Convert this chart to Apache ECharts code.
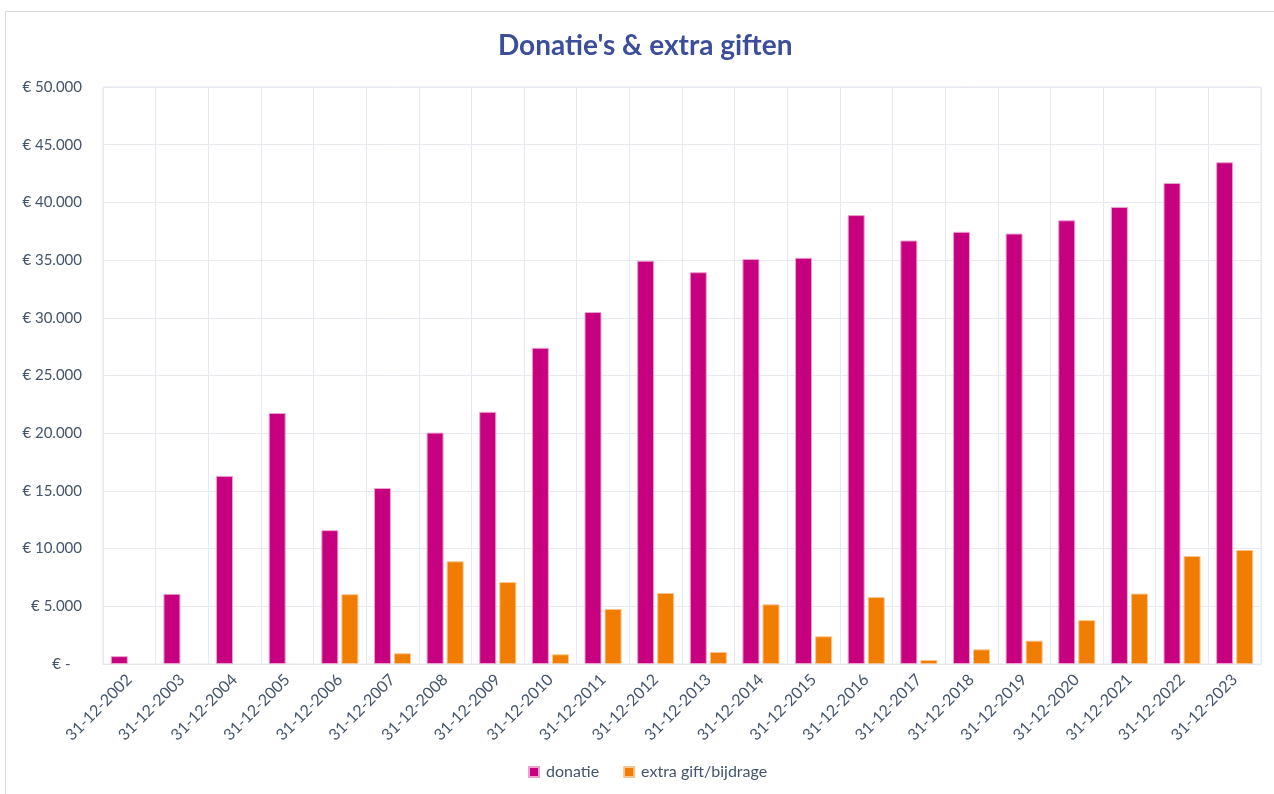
<!DOCTYPE html>
<html>
<head>
<meta charset="utf-8">
<script src="https://cdn.jsdelivr.net/npm/echarts@6/dist/echarts.min.js"></script>
<style>
  html, body { margin: 0; padding: 0; background: #ffffff; }
  #chart { position: absolute; left: 0; top: 0; width: 1274px; height: 794px; }
  #frame { position: absolute; left: 5px; top: 11px; width: 1300px; height: 900px;
           border-left: 1px solid #D9D9D9; border-top: 1px solid #D9D9D9; pointer-events: none; }
</style>
</head>
<body>
<div id="chart"></div>
<div id="frame"></div>
<script>
const categories = ['31-12-2002','31-12-2003','31-12-2004','31-12-2005','31-12-2006','31-12-2007','31-12-2008','31-12-2009','31-12-2010','31-12-2011','31-12-2012','31-12-2013','31-12-2014','31-12-2015','31-12-2016','31-12-2017','31-12-2018','31-12-2019','31-12-2020','31-12-2021','31-12-2022','31-12-2023'];
const donatie = [680, 6080, 16300, 21750, 11600, 15250, 20050, 21850, 27400, 30500, 34950, 33950, 35100, 35200, 38900, 36700, 37450, 37300, 38450, 39600, 41680, 43480];
const extraGift = [null, null, null, null, 6050, 930, 8900, 7100, 840, 4770, 6150, 1040, 5170, 2400, 5800, 350, 1270, 2020, 3800, 6100, 9360, 9880];
const seriesNames = ['donatie', 'extra gift/bijdrage'];
const chartTitle = "Donatie's & extra giften";

function euro(v) {
  if (v === 0) return '€ -   ';
  return '€ ' + String(v).replace(/\B(?=(\d{3})+(?!\d))/g, '.');
}

const chart = echarts.init(document.getElementById('chart'));
chart.setOption({
  backgroundColor: '#ffffff',
  animation: false,
  title: {
    text: chartTitle,
    left: 493,
    top: 27,
    textStyle: { fontFamily: 'Lato', fontWeight: 'bold', fontSize: 28, color: '#3C4E9A' }
  },
  legend: {
    bottom: 9,
    left: 523,
    itemWidth: 10,
    itemHeight: 10,
    itemGap: 24,
    icon: 'rect',
    textStyle: { fontFamily: 'Lato', fontSize: 16, color: '#44546A', padding: [0, 0, 0, 2] },
    data: seriesNames
  },
  grid: {
    left: 103, right: 13, top: 87, bottom: 130,
    show: true, borderColor: '#E6E9EF', borderWidth: 1
  },
  xAxis: {
    type: 'category',
    data: categories,
    axisLine: { show: true, lineStyle: { color: '#E3E6EC' } },
    axisTick: { show: false },
    splitLine: { show: true, lineStyle: { color: '#E6E9EF', width: 1 } },
    axisLabel: {
      rotate: 45, interval: 0, margin: 13,
      fontFamily: 'Lato', fontSize: 16, color: '#44546A'
    }
  },
  yAxis: {
    type: 'value',
    min: 0, max: 50000, interval: 5000,
    axisLine: { show: false },
    axisTick: { show: false },
    splitLine: { show: true, lineStyle: { color: '#E6E9EF', width: 1 } },
    axisLabel: {
      margin: 21, formatter: euro,
      fontFamily: 'Lato', fontSize: 15, color: '#44546A'
    }
  },
  series: [
    {
      name: seriesNames[0], type: 'bar', data: donatie,
      barWidth: 17, barGap: '18%',
      itemStyle: { color: '#C6007E', borderColor: '#EBA3CF', borderWidth: 1 }
    },
    {
      name: seriesNames[1], type: 'bar', data: extraGift,
      barWidth: 17,
      itemStyle: { color: '#F07C00', borderColor: '#F8C590', borderWidth: 1 }
    }
  ]
});
</script>
</body>
</html>
